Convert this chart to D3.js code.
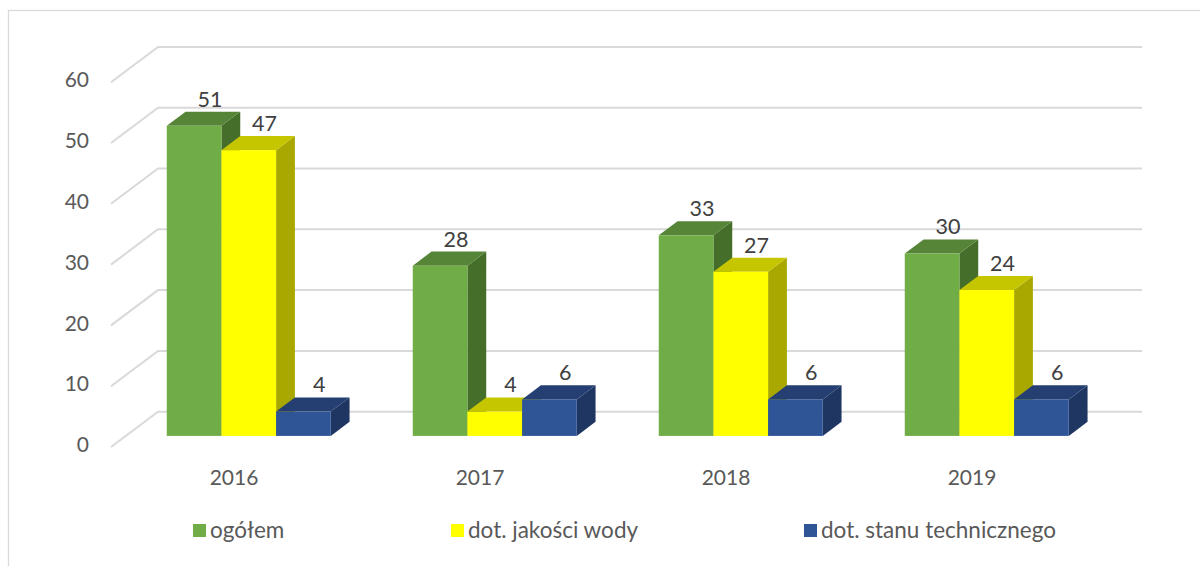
<!DOCTYPE html>
<html>
<head>
<meta charset="utf-8">
<script src="https://cdn.jsdelivr.net/npm/d3@7"></script>
<style>
  body { margin: 0; background: #fff; }
  text { font-family: Lato, "Open Sans", sans-serif; }
</style>
</head>
<body>
<div id="chart"></div>
<script>
// data
var years = ["2016", "2017", "2018", "2019"];
var seriesNames = ["ogółem", "dot. jakości wody", "dot. stanu technicznego"];
var ogolem = [51, 28, 33, 30];
var jakosc = [47, 4, 27, 24];
var stan = [4, 6, 6, 6];
var yTicks = [0, 10, 20, 30, 40, 50, 60];

var W = 1200, H = 566;

// faces: front, top, side
var colors = [
    ["#70AD47", "#568538", "#466E2B"],
    ["#FFFF00", "#C6C600", "#A8A800"],
    ["#2F5597", "#253F73", "#1E3661"]
];

// depth of the 3d box (screen offset for full depth)
var DX = 47, DY = 35.3;
var z0 = 0.314, z1 = 0.714;

var svg = d3.select("#chart").append("svg")
    .attr("width", W)
    .attr("height", H);

// outer frame
svg.append("rect")
    .attr("x", 8.5).attr("y", 10.5)
    .attr("width", 1250).attr("height", 620)
    .attr("fill", "none")
    .attr("stroke", "#D9D9D9")
    .attr("stroke-width", 1.3);

var x = d3.scaleBand()
    .domain(years)
    .range([111, 1095]);

var xs = d3.scaleBand()
    .domain(seriesNames)
    .range([0, x.bandwidth()])
    .paddingOuter(0.75);

var y = d3.scaleLinear()
    .domain([0, 60])
    .range([447, 82.2]);

function px(xf, z) { return xf + z * DX; }
function py(yf, z) { return yf - z * DY; }

// walls: side diagonal + back line
var grid = svg.append("g")
    .attr("stroke", "#D9D9D9")
    .attr("stroke-width", 2)
    .attr("fill", "none");

grid.selectAll("path")
    .data(yTicks)
    .enter().append("path")
    .attr("d", function (d) {
        var yf = y(d);
        return "M" + 111 + "," + yf +
            "L" + px(111, 1) + "," + py(yf, 1) +
            "L" + px(1095, 1) + "," + py(yf, 1);
    });

// bars
var rows = [ogolem, jakosc, stan];
var bars = [];
years.forEach(function (yr, i) {
    seriesNames.forEach(function (s, j) {
        bars.push({ year: yr, series: s, j: j, value: rows[j][i] });
    });
});

var barG = svg.append("g")
    .selectAll("g")
    .data(bars)
    .enter().append("g");

function pt(a, b) { return a + "," + b; }

// side face
barG.append("path")
    .attr("fill", function (d) { return colors[d.j][2]; })
    .attr("d", function (d) {
        var xr = x(d.year) + xs(d.series) + xs.bandwidth();
        var yt = y(d.value), yb = y(0);
        return "M" + pt(px(xr, z0), py(yt, z0)) +
            "L" + pt(px(xr, z1), py(yt, z1)) +
            "L" + pt(px(xr, z1), py(yb, z1)) +
            "L" + pt(px(xr, z0), py(yb, z0)) + "Z";
    });

// top face
barG.append("path")
    .attr("fill", function (d) { return colors[d.j][1]; })
    .attr("d", function (d) {
        var xl = x(d.year) + xs(d.series);
        var xr = xl + xs.bandwidth();
        var yt = y(d.value);
        return "M" + pt(px(xl, z0), py(yt, z0)) +
            "L" + pt(px(xl, z1), py(yt, z1)) +
            "L" + pt(px(xr, z1), py(yt, z1)) +
            "L" + pt(px(xr, z0), py(yt, z0)) + "Z";
    });

// front face
barG.append("rect")
    .attr("fill", function (d) { return colors[d.j][0]; })
    .attr("x", function (d) { return px(x(d.year) + xs(d.series), z0); })
    .attr("y", function (d) { return py(y(d.value), z0); })
    .attr("width", xs.bandwidth())
    .attr("height", function (d) { return y(0) - y(d.value); });

// data labels
svg.append("g")
    .attr("font-size", 21.5)
    .attr("fill", "#404040")
    .attr("text-anchor", "middle")
    .selectAll("text")
    .data(bars)
    .enter().append("text")
    .attr("x", function (d) {
        return px(x(d.year) + xs(d.series) + xs.bandwidth() / 2, z1) - 3;
    })
    .attr("y", function (d) { return py(y(d.value), z1) - 5; })
    .text(function (d) { return d.value; });

// y axis labels
var yAxis = svg.append("g")
    .attr("transform", "translate(111,0)")
    .call(d3.axisLeft(y).tickValues(yTicks).tickSize(0).tickPadding(22));
yAxis.select(".domain").remove();
yAxis.selectAll("text")
    .attr("font-family", "Lato, 'Open Sans', sans-serif")
    .attr("font-size", 21)
    .attr("fill", "#595959")
    .attr("dy", "0.22em");

// x axis labels
var xAxis = svg.append("g")
    .attr("transform", "translate(0,447)")
    .call(d3.axisBottom(x).tickSize(0).tickPadding(23));
xAxis.select(".domain").remove();
xAxis.selectAll("text")
    .attr("font-family", "Lato, 'Open Sans', sans-serif")
    .attr("font-size", 21)
    .attr("fill", "#595959");

// legend
var legendX = [193, 451, 804];
var legend = svg.append("g")
    .selectAll("g")
    .data(seriesNames)
    .enter().append("g")
    .attr("transform", function (d, i) {
        return "translate(" + legendX[i] + ",524)";
    });

legend.append("rect")
    .attr("width", 13)
    .attr("height", 13)
    .attr("fill", function (d, i) { return colors[i][0]; });

legend.append("text")
    .attr("x", 17)
    .attr("y", 14)
    .attr("font-size", 22.5)
    .attr("fill", "#595959")
    .text(function (d) { return d; });
</script>
</body>
</html>
